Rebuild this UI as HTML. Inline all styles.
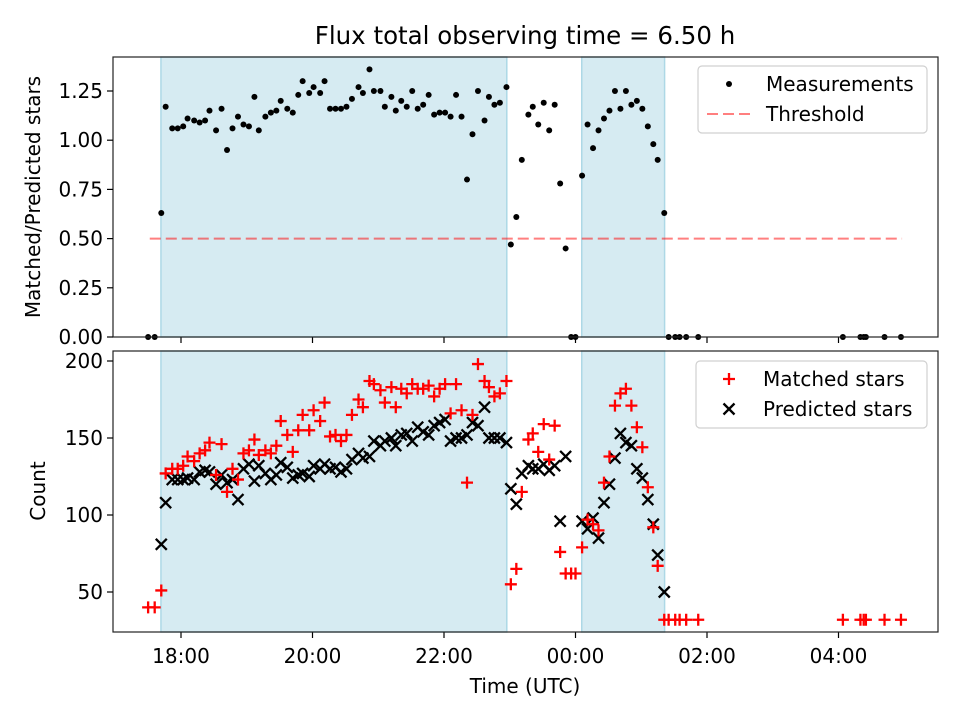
<!DOCTYPE html>
<html><head><meta charset="utf-8"><style>
html,body{margin:0;padding:0;background:#fff;}
body{position:relative;width:960px;height:720px;overflow:hidden;}
svg{display:block;font-family:"DejaVu Sans","Liberation Sans",sans-serif;}
</style></head><body>
<svg id="fig" width="960" height="720" viewBox="0 0 960 720" style="position:absolute;left:0;top:0">
<text x="525" y="44" font-size="24.5" text-anchor="middle">Flux total observing time = 6.50 h</text>
<g id="topPanel"></g>
<g id="botPanel"></g>
</svg>
<script>
// minutes relative to 18:00 UTC
const times = [-30,-24,-18,-14,-8,-3,2,6,12,17,22,26,32,37,42,47,52,57,62,67,71,77,82,87,91,97,102,107,111,117,121,127,131,136,141,146,151,156,162,166,172,176,182,186,192,196,201,206,211,216,221,226,231,236,241,246,251,256,261,266,271,277,281,286,291,297,301,306,311,317,321,326,331,336,341,346,351,356,360,366,371,376,381,386,391,396,401,406,411,416,421,426,431,435,441,445,451,455,461,472,604,620,623,625,642,657];
const ratio = [0,0,0.63,1.17,1.06,1.06,1.07,1.11,1.10,1.09,1.10,1.15,1.05,1.16,0.95,1.06,1.12,1.08,1.07,1.22,1.05,1.12,1.14,1.15,1.20,1.16,1.14,1.23,1.30,1.24,1.27,1.24,1.30,1.16,1.16,1.16,1.17,1.21,1.27,1.24,1.36,1.25,1.25,1.17,1.22,1.15,1.20,1.17,1.25,1.16,1.18,1.23,1.13,1.14,1.14,1.12,1.23,1.12,0.80,1.03,1.25,1.10,1.22,1.18,1.19,1.27,0.47,0.61,0.90,1.13,1.17,1.08,1.19,1.05,1.18,0.78,0.45,0,0,0.82,1.08,0.96,1.05,1.11,1.15,1.25,1.16,1.25,1.18,1.20,1.16,1.07,0.98,0.90,0.63,0,0,0,0,0,0,0,0,0,0,0];
const matched = [40,40,51,127,130,130,132,138,135,140,142,147,126,146,115,130,123,140,142,149,139,142,140,145,161,152,141,155,165,155,168,161,173,151,152,148,152,165,175,170,187,185,181,173,183,170,182,179,185,182,182,184,177,182,185,166,185,168,121,165,198,187,183,177,179,187,55,65,115,149,153,141,159,136,158,76,62,62,62,79,97,94,90,121,138,171,179,182,171,157,144,118,92,67,32,32,32,32,32,32,32,32,32,32,32,32];
const predicted = [null,null,81,108,123,123,123,124,123,128,129,128,120,126,121,123,110,130,133,122,132,127,123,126,134,131,124,126,127,125,132,130,133,130,131,128,130,136,140,137,138,148,145,148,150,145,152,153,148,157,154,152,158,160,162,148,150,150,152,160,158,170,150,150,150,147,117,107,127,132,130,130,133,129,132,96,138,null,null,96,91,98,85,108,120,137,153,147,145,130,124,110,94,74,50,null,null,null,null,null,null,null,null,null,null,null];
const shadeSpans = [[-18.3,297.3],[365.7,441.3]];
const thresholdValue = 0.5;
const thresholdSpan = [-28.5,658];
const xTickLabels = ["18:00","20:00","22:00","00:00","02:00","04:00"];
const xTickMinutes = [0,120,240,360,480,600];
const topTicks = [0,0.25,0.5,0.75,1.0,1.25];
const botTicks = [50,100,150,200];

const NS="http://www.w3.org/2000/svg";
function mk(tag,attrs,parent){const e=document.createElementNS(NS,tag);for(const k in attrs)e.setAttribute(k,attrs[k]);parent.appendChild(e);return e;}
const X0=113,X1=938;
const xs=t=>181+t*65.75/60;
const TY0=57,TY1=337; const ysTop=v=>337-v*196.8;
const BY0=351,BY1=632; const ysBot=v=>592-(v-50)*1.54;
const topG=document.getElementById('topPanel'), botG=document.getElementById('botPanel');

function panel(g,y0,y1,name){
  shadeSpans.forEach((s,i)=>{
    const r=mk('rect',{x:xs(s[0]),y:y0,width:xs(s[1])-xs(s[0]),height:y1-y0,fill:'#add8e6','fill-opacity':0.5,stroke:'#add8e6','stroke-width':1.5},g);
    
    
  });
  xTickMinutes.forEach((m,i)=>{
    const l=mk('line',{x1:xs(m),x2:xs(m),y1:y1,y2:y1+6,stroke:'#000','stroke-width':1.2},g);
    
    
  });
}
function frame(g,y0,y1,name){
  const f=mk('rect',{x:X0,y:y0,width:X1-X0,height:y1-y0,fill:'none',stroke:'#222','stroke-width':1.2},g);
  
  
}
panel(topG,TY0,TY1,'top');
panel(botG,BY0,BY1,'bottom');

const th=mk('line',{x1:xs(thresholdSpan[0]),x2:xs(thresholdSpan[1]),y1:ysTop(thresholdValue),y2:ysTop(thresholdValue),stroke:'#ff0000','stroke-opacity':0.5,'stroke-width':2,'stroke-dasharray':'11,5'},topG);



times.forEach((t,i)=>{
  const c=mk('circle',{cx:xs(t),cy:ysTop(ratio[i]),r:3,fill:'#000'},topG);
  
  
});
times.forEach((t,i)=>{
  if(predicted[i]==null)return;
  const x=xs(t),y=ysBot(predicted[i]),s=5.5;
  const p=mk('path',{d:`M${x-s},${y-s}L${x+s},${y+s}M${x-s},${y+s}L${x+s},${y-s}`,stroke:'#000','stroke-width':2.3,fill:'none'},botG);
  
  
});
times.forEach((t,i)=>{
  const x=xs(t),y=ysBot(matched[i]),s=6;
  const p=mk('path',{d:`M${x-s},${y}L${x+s},${y}M${x},${y-s}L${x},${y+s}`,stroke:'#ff0000','stroke-width':2.3,fill:'none'},botG);
  
  
});
frame(topG,TY0,TY1,'top');
frame(botG,BY0,BY1,'bottom');

topTicks.forEach(v=>{
  const y=ysTop(v);
  const l=mk('line',{x1:X0-6,x2:X0,y1:y,y2:y,stroke:'#000','stroke-width':1.2},topG);
  
  
  const tx=mk('text',{x:X0-10,y:y+7,'font-size':20,'text-anchor':'end'},topG);
  tx.textContent=v.toFixed(2);
  
  
});
botTicks.forEach(v=>{
  const y=ysBot(v);
  const l=mk('line',{x1:X0-6,x2:X0,y1:y,y2:y,stroke:'#000','stroke-width':1.2},botG);
  
  
  const tx=mk('text',{x:X0-10,y:y+7,'font-size':20,'text-anchor':'end'},botG);
  tx.textContent=String(v);
  
  
});
xTickMinutes.forEach((m,i)=>{
  const tx=mk('text',{x:xs(m),y:663,'font-size':20,'text-anchor':'middle'},botG);
  tx.textContent=xTickLabels[i];
  
  
});
</script>
<svg width="960" height="720" style="position:absolute;left:0;top:0;pointer-events:none;font-family:'DejaVu Sans','Liberation Sans',sans-serif">
<text x="525" y="693" font-size="20" text-anchor="middle">Time (UTC)</text>
<text transform="translate(40,197) rotate(-90)" font-size="20" text-anchor="middle">Matched/Predicted stars</text>
<text transform="translate(45,491) rotate(-90)" font-size="20" text-anchor="middle">Count</text>
<g>
<rect x="698" y="66" width="229" height="67" rx="4" fill="#fff" fill-opacity="0.85" stroke="#d0d0d0" stroke-width="1.2"/>
<circle cx="729" cy="84" r="3" fill="#000"/>
<text x="766" y="91" font-size="20">Measurements</text>
<line x1="707" x2="750" y1="114" y2="114" stroke="#ff0000" stroke-opacity="0.5" stroke-width="2" stroke-dasharray="11,5"/>
<text x="766" y="121" font-size="20">Threshold</text>
</g>
<g>
<rect x="696" y="361" width="231" height="67" rx="4" fill="#fff" fill-opacity="0.85" stroke="#d0d0d0" stroke-width="1.2"/>
<path d="M723,379H735M729,373V385" stroke="#ff0000" stroke-width="2.3"/>
<text x="763" y="386" font-size="20">Matched stars</text>
<path d="M723.5,403.5L734.5,414.5M723.5,414.5L734.5,403.5" stroke="#000" stroke-width="2.3"/>
<text x="763" y="416" font-size="20">Predicted stars</text>
</g>
</svg>
</body></html>
